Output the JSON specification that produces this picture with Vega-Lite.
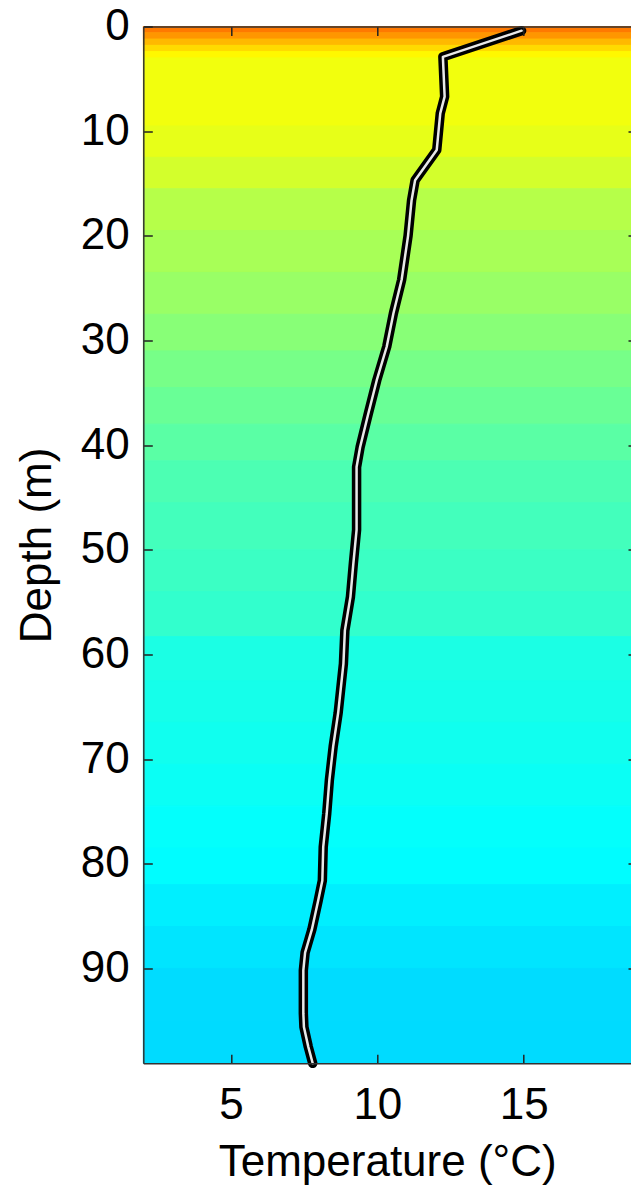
{
  "$schema": "https://vega.github.io/schema/vega-lite/v6.json",
  "width": 487.7,
  "height": 1036.8,
  "autosize": {"type": "none"},
  "padding": {"left": 143.3, "top": 26.5, "right": 0, "bottom": 125.7},
  "background": "white",
  "config": {
    "view": {"stroke": null},
    "font": "Liberation Sans",
    "axis": {
      "labelFont": "Liberation Sans",
      "labelFontSize": 44,
      "labelColor": "#000",
      "titleFont": "Liberation Sans",
      "titleFontSize": 44,
      "titleFontWeight": "normal",
      "titleColor": "#000",
      "grid": false,
      "domainColor": "#333",
      "domainWidth": 1.5,
      "tickColor": "#222",
      "tickWidth": 1.5,
      "tickSize": -9,
      "labelFlush": false,
      "labelOverlap": false
    }
  },
  "datasets": {
    "bands": [
      {"top": 0, "bottom": 0.6, "temp": 14.9},
      {"top": 0.6, "bottom": 1.2, "temp": 14.4},
      {"top": 1.2, "bottom": 1.8, "temp": 13.8},
      {"top": 1.8, "bottom": 2.4, "temp": 13.2},
      {"top": 2.4, "bottom": 3.0, "temp": 12.7},
      {"top": 3.0, "bottom": 9.5, "temp": 12.35},
      {"top": 9.5, "bottom": 12.5, "temp": 12.15},
      {"top": 12.5, "bottom": 15.5, "temp": 11.8},
      {"top": 15.5, "bottom": 19.5, "temp": 11.3},
      {"top": 19.5, "bottom": 23.5, "temp": 11.05},
      {"top": 23.5, "bottom": 27.5, "temp": 10.8},
      {"top": 27.5, "bottom": 31, "temp": 10.5},
      {"top": 31, "bottom": 34.5, "temp": 10.2},
      {"top": 34.5, "bottom": 38, "temp": 9.95},
      {"top": 38, "bottom": 41.5, "temp": 9.7},
      {"top": 41.5, "bottom": 45.5, "temp": 9.45},
      {"top": 45.5, "bottom": 50, "temp": 9.3},
      {"top": 50, "bottom": 54, "temp": 9.15},
      {"top": 54, "bottom": 58.3, "temp": 9.0},
      {"top": 58.3, "bottom": 62.5, "temp": 8.6},
      {"top": 62.5, "bottom": 66.5, "temp": 8.5},
      {"top": 66.5, "bottom": 70.5, "temp": 8.4},
      {"top": 70.5, "bottom": 74.5, "temp": 8.3},
      {"top": 74.5, "bottom": 78.5, "temp": 8.18},
      {"top": 78.5, "bottom": 82, "temp": 8.1},
      {"top": 82, "bottom": 86, "temp": 7.85},
      {"top": 86, "bottom": 90, "temp": 7.68},
      {"top": 90, "bottom": 95, "temp": 7.52},
      {"top": 95, "bottom": 99.07, "temp": 7.5}
    ],
    "profile": [
      {"depth": 0.4, "temp": 14.93},
      {"depth": 2.9, "temp": 12.24},
      {"depth": 6.7, "temp": 12.3},
      {"depth": 8.3, "temp": 12.15},
      {"depth": 11.8, "temp": 12.03},
      {"depth": 14.7, "temp": 11.29},
      {"depth": 16.6, "temp": 11.17},
      {"depth": 20.0, "temp": 11.05},
      {"depth": 24.2, "temp": 10.83},
      {"depth": 27.4, "temp": 10.55},
      {"depth": 30.6, "temp": 10.32},
      {"depth": 33.8, "temp": 9.98},
      {"depth": 37.0, "temp": 9.69},
      {"depth": 40.2, "temp": 9.41},
      {"depth": 42.1, "temp": 9.29},
      {"depth": 48.1, "temp": 9.29},
      {"depth": 51.3, "temp": 9.18},
      {"depth": 54.5, "temp": 9.08},
      {"depth": 57.7, "temp": 8.89},
      {"depth": 60.9, "temp": 8.84},
      {"depth": 65.6, "temp": 8.66},
      {"depth": 68.8, "temp": 8.49},
      {"depth": 72.0, "temp": 8.36},
      {"depth": 75.2, "temp": 8.27},
      {"depth": 78.4, "temp": 8.15},
      {"depth": 81.6, "temp": 8.12},
      {"depth": 83.5, "temp": 7.98},
      {"depth": 86.3, "temp": 7.76},
      {"depth": 88.5, "temp": 7.53},
      {"depth": 90.2, "temp": 7.47},
      {"depth": 94.3, "temp": 7.47},
      {"depth": 95.6, "temp": 7.49},
      {"depth": 97.5, "temp": 7.64},
      {"depth": 99.07, "temp": 7.79}
    ]
  },
  "layer": [
    {
      "data": {"name": "bands"},
      "mark": {"type": "rect", "strokeWidth": 1},
      "encoding": {
        "y": {
          "field": "top", "type": "quantitative",
          "scale": {"domain": [0, 99.07], "reverse": true, "nice": false, "zero": false},
          "axis": {
            "orient": "left",
            "zindex": 3,
            "values": [0, 10, 20, 30, 40, 50, 60, 70, 80, 90],
            "title": "Depth (m)",
            "labelPadding": 23,
            "titleX": -93.3,
            "titleBaseline": "alphabetic",
            "titleAngle": -90
          }
        },
        "y2": {"field": "bottom"},
        "fill": {
          "field": "temp", "type": "quantitative",
          "scale": {"domain": [1.46, 3.68, 8.13, 12.57, 17.02, 19.24], "range": ["#000080", "#0000ff", "#00ffff", "#ffff00", "#ff0000", "#800000"], "interpolate": "rgb"},
          "legend": null
        },
        "stroke": {
          "field": "temp", "type": "quantitative",
          "scale": {"domain": [1.46, 3.68, 8.13, 12.57, 17.02, 19.24], "range": ["#000080", "#0000ff", "#00ffff", "#ffff00", "#ff0000", "#800000"], "interpolate": "rgb"},
          "legend": null
        }
      }
    },
    {
      "data": {"name": "profile"},
      "mark": {"type": "line", "color": "#000", "strokeWidth": 9.5, "strokeCap": "round", "strokeJoin": "round"},
      "encoding": {
        "x": {
          "field": "temp", "type": "quantitative",
          "scale": {"domain": [2, 18.67], "nice": false, "zero": false},
          "axis": {
            "orient": "bottom",
            "zindex": 3,
            "values": [5, 10, 15],
            "title": "Temperature (°C)",
            "labelPadding": 63.7,
            "labelBaseline": "alphabetic",
            "titleY": 111.7,
            "titleBaseline": "alphabetic"
          }
        },
        "y": {
          "field": "depth", "type": "quantitative",
          "axis": {
            "orient": "right",
            "zindex": 3,
            "values": [10, 20, 30, 40, 50, 60, 70, 80, 90],
            "labels": false,
            "domain": false,
            "tickSize": -3,
            "title": null
          }
        },
        "order": {"field": "depth", "type": "quantitative"}
      }
    },
    {
      "data": {"name": "profile"},
      "mark": {"type": "line", "color": "#e8e8e8", "strokeWidth": 2.5, "strokeCap": "round", "strokeJoin": "round"},
      "encoding": {
        "x": {
          "field": "temp", "type": "quantitative",
          "axis": {
            "orient": "top",
            "zindex": 3,
            "values": [5, 10, 15],
            "labels": false,
            "title": null
          }
        },
        "y": {"field": "depth", "type": "quantitative", "axis": null},
        "order": {"field": "depth", "type": "quantitative"}
      }
    }
  ]
}
